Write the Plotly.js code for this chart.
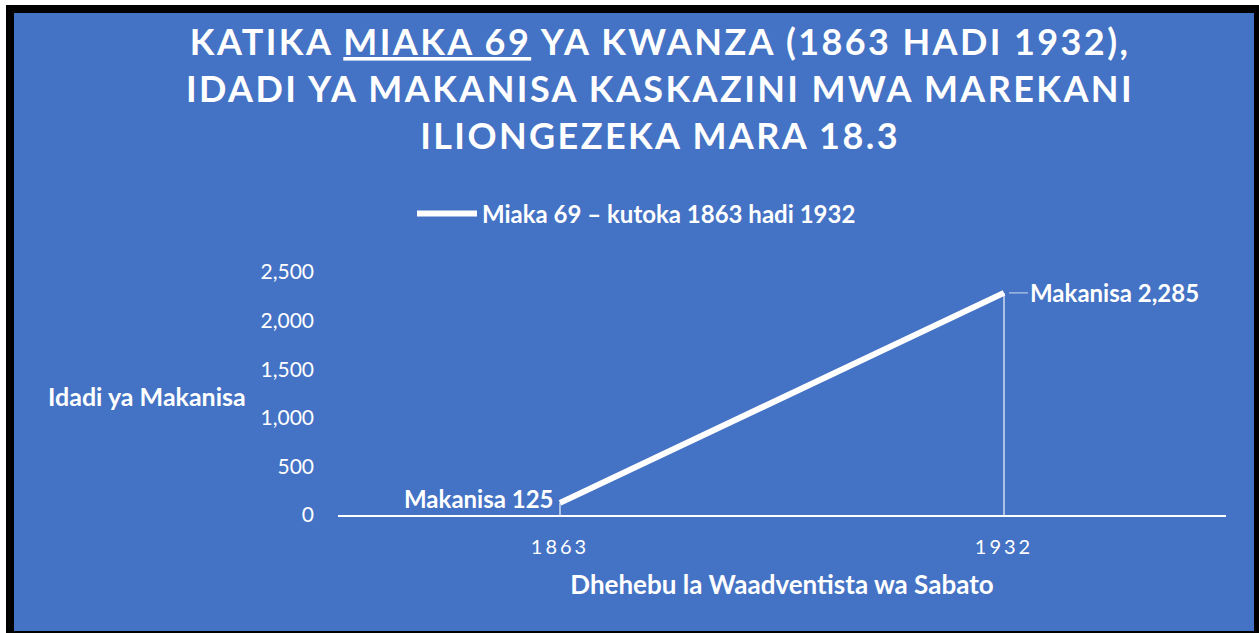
<!DOCTYPE html>
<html>
<head>
<meta charset="utf-8">
<script src="https://cdn.plot.ly/plotly-3.0.1.min.js"></script>
<style>
  html, body { margin: 0; padding: 0; background: #ffffff; width: 1259px; height: 633px; overflow: hidden; }
  #frame { position: absolute; left: 6px; top: 5px; width: 1253px; height: 628px; background: #000000; }
  #chart { position: absolute; left: 14px; top: 13px; width: 1240px; height: 618px; }
</style>
</head>
<body>
<div id="frame"></div>
<div id="chart"></div>
<script>
// ---- data ----
const years = ['1863', '1932'];
const churches = [125, 2285];
const seriesName = 'Miaka 69 – kutoka 1863 hadi 1932';
const labelPrefix = 'Makanisa ';
const yTicks = [0, 500, 1000, 1500, 2000, 2500];

const FONT = 'Lato, "Open Sans", sans-serif';
const WHITE = '#ffffff';
const BLUE = '#4472C4';

const trace = {
  type: 'scatter',
  mode: 'lines',
  x: years,
  y: churches,
  name: seriesName,
  line: { color: WHITE, width: 6 },
  error_y: {
    type: 'data',
    symmetric: false,
    array: churches.map(() => 0),
    arrayminus: churches,
    color: 'rgba(255,255,255,0.75)',
    thickness: 1.5,
    width: 0
  },
  hoverinfo: 'x+y'
};

const fmt = v => v.toLocaleString('en-US');
const LS = t => '<span style="letter-spacing:2.4px">' + t + '</span>';

const layout = {
  width: 1240,
  height: 618,
  paper_bgcolor: BLUE,
  plot_bgcolor: BLUE,
  margin: { l: 324, r: 28, t: 259, b: 116 },
  font: { family: FONT, color: WHITE },
  title: {
    text: LS('KATIKA ') + '<span style="letter-spacing:2.4px;text-decoration:underline">MIAKA 69</span>' + LS(' YA KWANZA (1863 HADI 1932),') +
          '<br>' + LS('IDADI YA MAKANISA KASKAZINI MWA MAREKANI') +
          '<br>' + LS('ILIONGEZEKA MARA 18.3'),
    font: { family: FONT, size: 36, color: WHITE, weight: 'bold' },
    xref: 'container', x: 0.521, xanchor: 'center',
    yref: 'container', y: 0.932, yanchor: 'top'
  },
  showlegend: true,
  legend: {
    orientation: 'h',
    xref: 'container', x: 0.502, xanchor: 'center',
    yref: 'container', y: 0.675, yanchor: 'middle',
    itemwidth: 60,
    font: { family: FONT, size: 24, color: WHITE, weight: 'bold' },
    bgcolor: 'rgba(0,0,0,0)'
  },
  xaxis: {
    type: 'category',
    range: [-0.5, 1.5],
    showline: true,
    linecolor: WHITE,
    linewidth: 2,
    showgrid: false,
    zeroline: false,
    ticks: '',
    tickvals: years,
    ticktext: years.map(y => '<span style="letter-spacing:3px">' + y + '</span>'),
    tickfont: { family: FONT, size: 20, color: WHITE },
    ticklabelstandoff: 13,
    fixedrange: true,
    title: {
      text: 'Dhehebu la Waadventista wa Sabato',
      font: { family: FONT, size: 26, color: WHITE, weight: 'bold' },
      standoff: 19
    }
  },
  yaxis: {
    range: [0, 2500],
    tickvals: yTicks,
    tickformat: ',',
    showline: false,
    showgrid: false,
    zeroline: false,
    ticks: '',
    tickfont: { family: FONT, size: 21, color: WHITE },
    ticklabelstandoff: 23,
    fixedrange: true
  },
  annotations: [
    {
      xref: 'paper', yref: 'paper',
      x: -0.215, y: 0.49,
      text: 'Idadi ya Makanisa',
      showarrow: false,
      xanchor: 'center', yanchor: 'middle',
      font: { family: FONT, size: 25, color: WHITE, weight: 'bold' }
    },
    {
      x: 0, y: churches[0],
      text: labelPrefix + fmt(churches[0]),
      showarrow: false,
      xanchor: 'right', yanchor: 'middle',
      xshift: -4, yshift: 4,
      font: { family: FONT, size: 24, color: WHITE, weight: 'bold' }
    },
    {
      x: 1, y: churches[1],
      text: labelPrefix + fmt(churches[1]),
      showarrow: true,
      arrowhead: 0,
      arrowwidth: 1.2,
      arrowcolor: 'rgba(255,255,255,0.6)',
      ax: 24, ay: 0,
      standoff: 5,
      xanchor: 'left', yanchor: 'middle',
      font: { family: FONT, size: 24, color: WHITE, weight: 'bold' }
    }
  ]
};

Plotly.newPlot('chart', [trace], layout, { displayModeBar: false, staticPlot: true });
</script>
</body>
</html>
